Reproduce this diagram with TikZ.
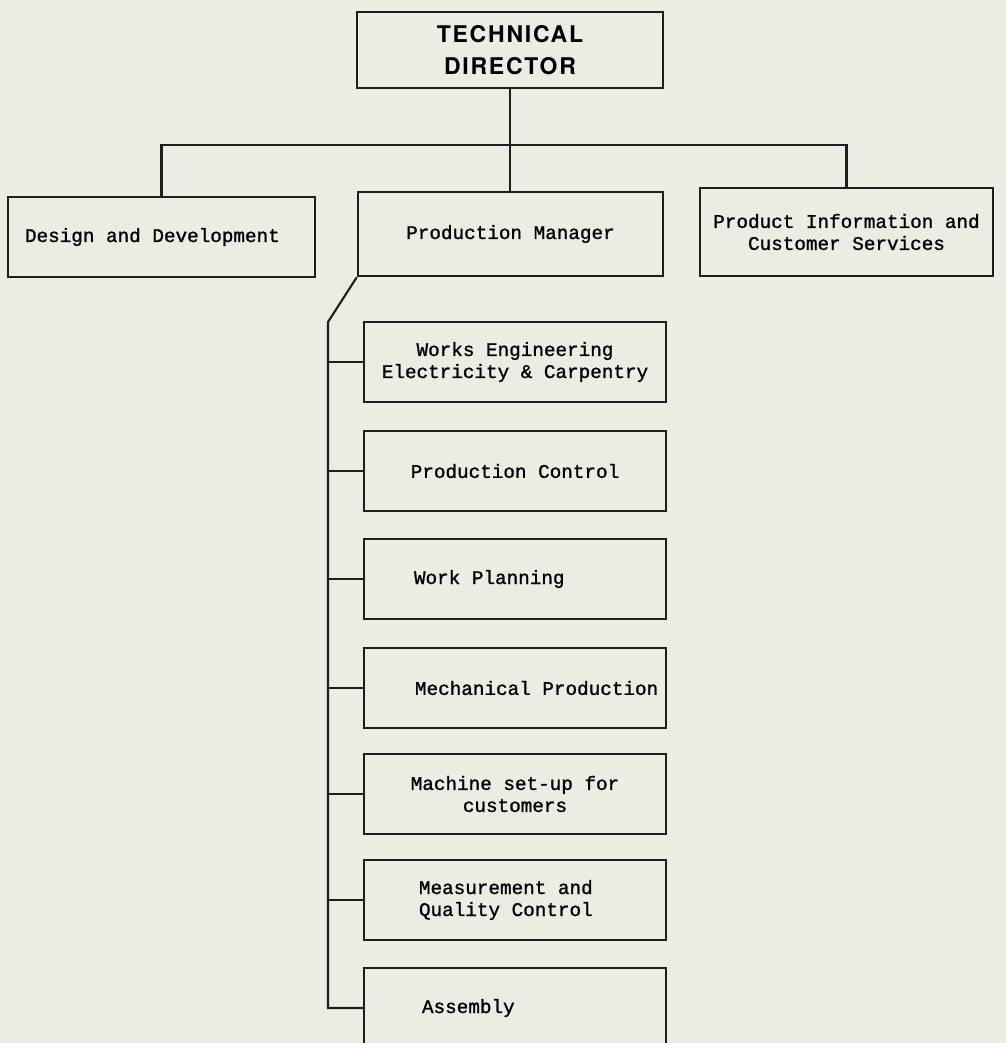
\documentclass[tikz,border=0pt]{standalone}
\usepackage{fontspec}
\usepackage{tikz}
\usetikzlibrary{positioning,calc}
\definecolor{paper}{HTML}{ECECE3}
\definecolor{ink}{HTML}{1E1E1E}
\newfontfamily\typefont[FakeBold=1.2]{Liberation Mono}
\newfontfamily\headfamily[LetterSpace=7.6]{TeX Gyre Heros}
\newcommand{\typo}{\typefont\fontsize{19.3}{22}\selectfont}
\newcommand{\headfont}{\headfamily\bfseries\fontsize{23}{32}\selectfont}

\begin{document}
\begin{tikzpicture}[
    x=1pt,y=-1pt,
    box/.style  = {rectangle, draw=ink, line width=2.5pt, align=center,
                   font=\typo, minimum width=302pt, minimum height=80pt,
                   inner sep=0pt},
    lft/.style  = {text width=#1, align=flush left},
    link/.style = {ink, line width=2.1pt},
  ]

  % ── Page ────────────────────────────────────────────────────────────────
  \path[fill=paper,use as bounding box] (0,0) rectangle (1006,1043);

  % ── Direction ───────────────────────────────────────────────────────────
  \node[box,font=\headfont,minimum width=306pt,minimum height=76pt] (td)
       at (510,50) {TECHNICAL\\DIRECTOR};

  \node[box,minimum width=307pt,lft=273pt] (dd) at (161.5,237)
       {Design and Development};
  \node[box,minimum width=305pt,minimum height=84pt] (pm) at (510.5,234)
       {Production Manager};
  \node[box,minimum width=293pt,minimum height=88pt] (pi) at (846.5,232)
       {Product Information and\\Customer Services};

  % ── Services under the production manager ───────────────────────────────
  \node[box] (we) at (515,362) {Works Engineering\\Electricity \& Carpentry};
  \node[box] (pc) at (515,471) {Production Control};
  \node[box,lft=202pt] (wp) at (515,579) {Work Planning};
  \node[box,lft=200pt] (mp) at (515,688) {\mbox{Mechanical Production}};
  \node[box] (ms) at (515,794) {Machine set-up for\\customers};
  \node[box,lft=192pt] (mq) at (515,900) {Measurement and\\Quality Control};
  \node[box,lft=186pt] (as) at (515,1008) {Assembly};

  % ── Links ───────────────────────────────────────────────────────────────
  \coordinate (bar)  at (507,145);
  \coordinate (bend) at (328,322);

  \draw[link] (td.south) -- (td.south |- pm.north);
  \draw[link] (dd.north) |- (bar) -| (pi.north);
  \draw[link] (pm.south west) -- (bend) |- (as.west);

  \foreach \b in {we,pc,wp,mp,ms,mq}
    \draw[link] (bend |- \b.west) -- (\b.west);

\end{tikzpicture}
\end{document}
